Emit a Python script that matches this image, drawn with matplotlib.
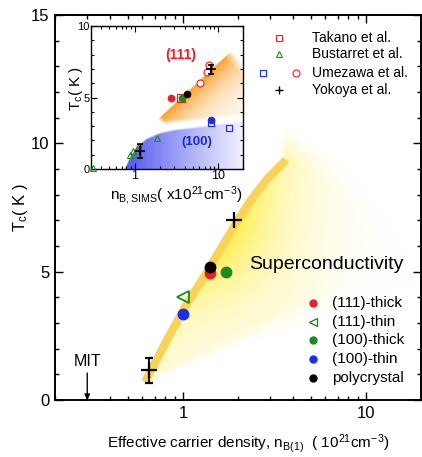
import numpy as np
import matplotlib
matplotlib.use('Agg')
import matplotlib.pyplot as plt
from matplotlib.ticker import MultipleLocator, LogLocator, NullFormatter

plt.rcParams['font.family'] = ['Liberation Sans', 'DejaVu Sans']
plt.rcParams['mathtext.fontset'] = 'custom'
plt.rcParams['mathtext.rm'] = 'Liberation Sans'
plt.rcParams['mathtext.it'] = 'Liberation Sans:italic'
plt.rcParams['mathtext.bf'] = 'Liberation Sans:bold'

RED = '#EE1C24'
GREEN = '#1E8A1E'
BLUE = '#1A2CF0'
BAND = '#F9D258'

# ---------------- main panel data ----------------
t111_thick_x = [1.41]; t111_thick_y = [4.94]
t111_thin_x = [1.0];   t111_thin_y = [4.0]
t100_thick_x = [1.71]; t100_thick_y = [4.97]
t100_thin_x = [1.0];   t100_thin_y = [3.35]
poly_x = [1.41];       poly_y = [5.17]
yok_main_x = [0.655, 1.91]; yok_main_y = [1.15, 7.0]; yok_main_err = [0.5, 0.0]
band_x = [0.621, 0.819, 1.027, 1.272, 1.595, 2.0, 2.356, 2.92, 3.66]
band_y = [0.70, 2.34, 3.62, 4.67, 5.84, 7.01, 7.79, 8.65, 9.35]
mit_x = 0.3

# ---------------- inset data ----------------
takano_x = [3.6];  takano_y = [5.0]
bust_x = [0.32, 0.87, 0.97, 1.1, 1.84]; bust_y = [0.1, 0.98, 1.28, 1.56, 2.19]
ume111_x = [6.1, 7.3, 7.9]; ume111_y = [6.0, 6.8, 7.25]
ume100_x = [8.3, 13.5];     ume100_y = [3.2, 2.9]
yok_in_x = [1.15, 8.3]; yok_in_y = [1.26, 6.97]; yok_in_err = [0.5, 0.3]
in_red_x = [2.7];   in_red_y = [5.0]
in_green_x = [3.66]; in_green_y = [4.94]
in_black_x = [4.3]; in_black_y = [5.22]
in_blue_x = [8.2];  in_blue_y = [3.43]
blue_edge_x = [0.77, 0.9, 1.07, 1.4, 2.02, 3.0, 5.0, 10.0, 20.0]
blue_edge_y = [0.0, 0.9, 1.54, 2.1, 2.5, 2.72, 2.87, 3.1, 3.3]

XMIN, XMAX, YMAX = 0.2, 20.0, 15.0
IXMIN, IXMAX, IYMAX = 0.3, 20.0, 10.0

fig = plt.figure(figsize=(4.22, 4.57), dpi=100)
FW, FH = 422.0, 457.0
main_pos = [55 / FW, 1 - 400 / FH, 366 / FW, 385 / FH]
inset_pos = [91 / FW, 1 - 169 / FH, 152 / FW, 143 / FH]

# ---------- main background gradient (fan) ----------
W, H = 366.0, 385.0
def main_px(x, y):
    return ((np.log10(np.asarray(x)) - np.log10(XMIN)) / np.log10(XMAX / XMIN) * W,
            np.asarray(y) / YMAX * H)

bx, by = main_px(band_x, band_y)
n = 500
gx = (np.arange(n) + 0.5) / n * W
gy = (np.arange(n) + 0.5) / n * H
X, Y = np.meshgrid(gx, gy)
xb = np.interp(Y, by, bx)
d = X - xb
ax0, ay0 = bx[0], by[0]
r = np.hypot(X - ax0, Y - ay0)
th = np.degrees(np.arctan2(Y - ay0, X - ax0))
a = np.exp(-np.clip(d, 0, None) / 60.0)
a *= np.clip((d + 4) / 4, 0, 1)
a *= 0.28 + 0.72 * np.exp(-((r - 170) / 75) ** 2)
a *= np.clip((th - 20) / 8, 0, 1)
a *= np.clip((292 - r) / 25, 0, 1)
a *= 0.85
col = np.array([1.0, 0.92, 0.15])
rgb = 1 - a[..., None] * (1 - col)

bg = fig.add_axes(main_pos, zorder=0)
bg.imshow(rgb, extent=[0, W, 0, H], origin='lower', aspect='auto', interpolation='bilinear')
bg.set_xlim(0, W); bg.set_ylim(0, H); bg.axis('off')

# ---------- main axes ----------
ax = fig.add_axes(main_pos, zorder=1)
ax.set_facecolor('none')
ax.set_xscale('log')
ax.set_xlim(XMIN, XMAX)
ax.set_ylim(0, YMAX)

ax.plot(band_x, band_y, color=BAND, lw=6, solid_capstyle='butt', solid_joinstyle='round', zorder=2)

ax.errorbar(yok_main_x[:1], yok_main_y[:1], yerr=yok_main_err[:1], fmt='+', color='black',
            ms=11, mew=1.6, elinewidth=1.3, capsize=3, capthick=1.3, zorder=5)
ax.plot(yok_main_x[1:], yok_main_y[1:], '+', color='black', ms=11, mew=1.6, zorder=5)
ax.plot(t111_thick_x, t111_thick_y, 'o', color=RED, ms=7.5, zorder=4)
ax.plot(poly_x, poly_y, 'o', color='black', ms=7.5, zorder=5)
ax.plot(t100_thick_x, t100_thick_y, 'o', color=GREEN, ms=7.5, zorder=4)
ax.plot(t100_thin_x, t100_thin_y, 'o', color=BLUE, ms=7.5, zorder=4)
ax.plot(t111_thin_x, t111_thin_y, '<', mfc='none', mec=GREEN, mew=1.3, ms=8, zorder=4)

ax.annotate('', xy=(mit_x, 0.0), xytext=(mit_x, 1.05),
            arrowprops=dict(arrowstyle='-|>', color='black', lw=1.0, mutation_scale=8,
                            shrinkA=0, shrinkB=0), zorder=5)
ax.text(mit_x, 1.5, 'MIT', ha='center', va='center', fontsize=11.5)
ax.text(0.742, 0.353, 'Superconductivity', transform=ax.transAxes, ha='center', va='center', fontsize=14)

ax.yaxis.set_minor_locator(MultipleLocator(1))
ax.xaxis.set_minor_locator(LogLocator(base=10, subs=np.arange(2, 10), numticks=20))
ax.xaxis.set_minor_formatter(NullFormatter())
ax.set_xticks([1, 10])
ax.set_xticklabels(['1', '10'])
ax.set_yticks([0, 5, 10, 15])
ax.set_yticklabels(['0', '5', '10', '15'])
ax.tick_params(which='both', direction='in', top=True, right=True, labelsize=12, width=1)
ax.tick_params(which='major', length=6, pad=4)
ax.tick_params(which='minor', length=3)
for s in ax.spines.values():
    s.set_linewidth(1.4)

ax.text(0.527, -0.112, r'Effective carrier density, n$_{\mathrm{B(1)}}$  ( 10$^{\mathrm{21}}$cm$^{\mathrm{-3}}$)',
        transform=ax.transAxes, ha='center', va='center', fontsize=11)
ax.text(-0.095, 0.5, r'T$_{\mathrm{c}}$( K )', transform=ax.transAxes, ha='center', va='center',
        rotation=90, fontsize=12)

# ---------- top legend (manual) ----------
def lx(px): return (px - 55) / 366.0
def ly(py): return (400 - py) / 385.0
kw = dict(transform=ax.transAxes, clip_on=False, zorder=6)
ax.plot([lx(279)], [ly(37.7)], 's', mfc='none', mec=RED, ms=5, mew=0.8, **kw)
ax.plot([lx(279)], [ly(54.3)], '^', mfc='none', mec=GREEN, ms=5, mew=0.8, **kw)
ax.plot([lx(262.7)], [ly(72.7)], 's', mfc='none', mec=BLUE, ms=5, mew=0.8, **kw)
ax.plot([lx(296)], [ly(72.7)], 'o', mfc='none', mec=RED, ms=5, mew=0.8, **kw)
ax.plot([lx(279)], [ly(90)], '+', color='black', ms=6, mew=1.0, **kw)
for txt, py in [('Takano et al.', 37.7), ('Bustarret et al.', 54.3),
                ('Umezawa et al.', 72.7), ('Yokoya et al.', 90)]:
    ax.text(lx(312), ly(py), txt, transform=ax.transAxes, ha='left', va='center', fontsize=10)

# ---------- bottom legend (manual) ----------
rows = [('(111)-thick', 303.3, dict(marker='o', color=RED, ms=5)),
        ('(111)-thin', 322.3, dict(marker='<', mfc='none', mec=GREEN, ms=5.5, mew=1.0)),
        ('(100)-thick', 340.0, dict(marker='o', color=GREEN, ms=5)),
        ('(100)-thin', 359.3, dict(marker='o', color=BLUE, ms=5)),
        ('polycrystal', 378.3, dict(marker='o', color='black', ms=5))]
for txt, py, st in rows:
    ax.plot([lx(313.3)], [ly(py)], linestyle='none', **st, **kw)
    ax.text(lx(332), ly(py), txt, transform=ax.transAxes, ha='left', va='center', fontsize=11)

# ---------- inset background ----------
Wi, Hi = 152.0, 143.0
def in_px(x, y):
    return ((np.log10(np.asarray(x)) - np.log10(IXMIN)) / np.log10(IXMAX / IXMIN) * Wi,
            np.asarray(y) / IYMAX * Hi)

m = 400
gx = (np.arange(m) + 0.5) / m * Wi
gy = (np.arange(m) + 0.5) / m * Hi
X, Y = np.meshgrid(gx, gy)
img = np.ones((m, m, 3))

# blue (100) region
ebx, eby = in_px(blue_edge_x, blue_edge_y)
top = np.interp(X, ebx, eby, left=-5)
ab = np.clip((top - Y) / 2.0 + 0.5, 0, 1)
ab *= np.clip(1 - (X - ebx[0] - 8) / (Wi - ebx[0] + 5), 0, 1) ** 1.1
ab *= 0.88
bcol = np.array([0.28, 0.3, 0.93])
img = img * (1 - ab[..., None]) + bcol * ab[..., None]

# orange (111) fan
P1 = np.array([67.0, 49.0]); P2 = np.array([139.0, 116.0])
L = np.linalg.norm(P2 - P1); u = (P2 - P1) / L; nrm = np.array([u[1], -u[0]])
dd = (X - P1[0]) * nrm[0] + (Y - P1[1]) * nrm[1]
ss = (X - P1[0]) * u[0] + (Y - P1[1]) * u[1]
ao = np.exp(-np.clip(dd, 0, None) / 22.0)
ao *= np.clip(dd + 1, 0, 1)
ao *= np.clip(ss / 5.0, 0, 1) * np.clip((L + 3 - ss) / 10.0, 0, 1)
ao *= np.clip((ss * 0.75 + 6 - dd) / 4.0, 0, 1)
ao *= 0.92
ocol = np.array([0.98, 0.6, 0.1])
img = img * (1 - ao[..., None]) + ocol * ao[..., None]

ibg = fig.add_axes(inset_pos, zorder=2)
ibg.imshow(img, extent=[0, Wi, 0, Hi], origin='lower', aspect='auto', interpolation='bilinear')
ibg.set_xlim(0, Wi); ibg.set_ylim(0, Hi); ibg.axis('off')

# ---------- inset axes ----------
ia = fig.add_axes(inset_pos, zorder=3)
ia.set_facecolor('none')
ia.set_xscale('log')
ia.set_xlim(IXMIN, IXMAX)
ia.set_ylim(0, IYMAX)

ia.plot(bust_x, bust_y, '^', mfc='none', mec=GREEN, ms=5, mew=0.8, clip_on=False, zorder=4)
ia.plot(takano_x, takano_y, 's', mfc='none', mec=RED, ms=5.5, mew=0.8, zorder=3)
ia.plot(ume111_x, ume111_y, 'o', mfc='white', mec=RED, ms=5, mew=0.8, zorder=3)
ia.plot(ume100_x, ume100_y, 's', mfc='none', mec=BLUE, ms=5, mew=0.8, zorder=3)
ia.plot(in_red_x, in_red_y, 'o', color=RED, ms=4.5, zorder=4)
ia.plot(in_green_x, in_green_y, 'o', color=GREEN, ms=4.5, zorder=4)
ia.plot(in_black_x, in_black_y, 'o', color='black', ms=4.5, zorder=4)
ia.plot(in_blue_x, in_blue_y, 'o', color=BLUE, ms=4.5, zorder=4)
ia.errorbar(yok_in_x, yok_in_y, yerr=yok_in_err, fmt='+', color='black', ms=7, mew=1.2,
            elinewidth=1.0, capsize=2, capthick=1.0, zorder=5)
ia.text(3.58, 7.97, '(111)', color=RED, fontweight='bold', ha='center', va='center', fontsize=10)
ia.text(5.56, 1.91, '(100)', color='#1A2CC8', fontweight='bold', ha='center', va='center', fontsize=9.5)

ia.yaxis.set_minor_locator(MultipleLocator(1))
ia.set_yticks([0, 5, 10]); ia.set_yticklabels(['0', '5', '10'])
ia.xaxis.set_minor_locator(LogLocator(base=10, subs=np.arange(2, 10), numticks=20))
ia.xaxis.set_minor_formatter(NullFormatter())
ia.set_xticks([1, 10]); ia.set_xticklabels(['1', '10'])
ia.tick_params(which='both', direction='in', top=True, right=True, width=0.8)
ia.tick_params(which='major', length=4, pad=1)
ia.tick_params(which='minor', length=2)
ia.tick_params(axis='y', labelsize=8, pad=1)
ia.tick_params(axis='x', labelsize=9)
for s in ia.spines.values():
    s.set_linewidth(1.0)

ia.text(0.56, -0.19, r'n$_{\mathrm{B,SIMS}}$( x10$^{\mathrm{21}}$cm$^{\mathrm{-3}}$)', transform=ia.transAxes,
        ha='center', va='center', fontsize=11)
ia.text(-0.1, 0.56, r'T$_{\mathrm{c}}$( K )', transform=ia.transAxes, ha='center', va='center',
        rotation=90, fontsize=11)

fig.savefig('out.png', dpi=100)
